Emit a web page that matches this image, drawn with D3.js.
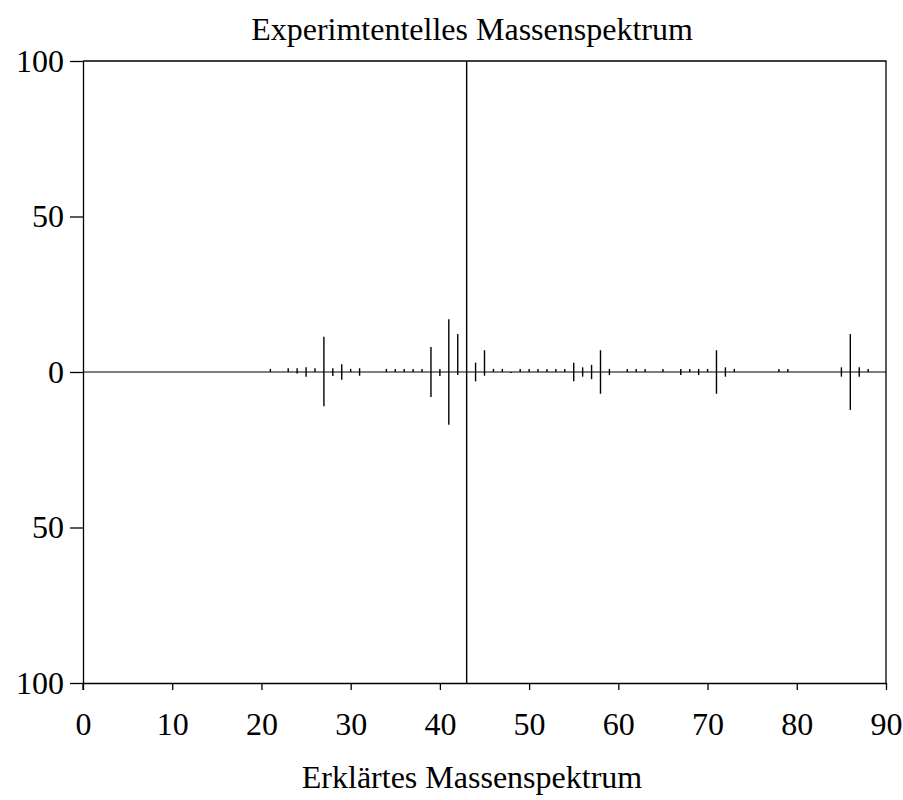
<!DOCTYPE html>
<head>
    <meta charset="UTF-8">
    <title>Massenspektrum</title>
</head>
<style>
    body { margin: 0; background: #fff; }
    text { font-family: "Liberation Serif", "Times New Roman", serif; fill: #000; }
    .axis .domain, .axis line { stroke: #000; stroke-width: 1.3; }
    .axis text { font-size: 32px; font-family: "Liberation Serif", serif; }
</style>
<body>
<script src="https://cdn.jsdelivr.net/npm/d3@7"></script>
<script>
    // Massenzahlen und Intensitäten (oben: experimentell, unten: erklärt)
    var masses      = [21, 23, 24, 25, 26, 27, 28, 29, 30, 31, 34, 35, 36, 37, 38, 39, 40, 41, 42, 43, 44, 45, 46, 47, 48, 49, 50, 51, 52, 53, 54, 55, 56, 57, 58, 59, 61, 62, 63, 65, 67, 68, 69, 70, 71, 72, 73, 78, 79, 85, 86, 87, 88];
    var expValues   = [1, 1.2, 1.2, 1.5, 1.2, 11.3, 1.2, 2.5, 1, 1.2, 1, 1, 1, 1, 1, 8, 1, 17, 12.2, 100, 3, 7, 1, 1, 0, 1, 1, 1, 1, 1, 1, 3, 1.5, 2.3, 7, 1, 1, 1, 1, 1, 1, 1, 1, 1, 7, 1.5, 1, 1, 1, 1.5, 12.2, 1.5, 1];
    var explValues  = [0, 0, 0.5, 1.5, 0, 11, 1.3, 2.5, 0, 1.2, 0, 0, 0, 0, 0, 8, 1.3, 17, 1, 100, 3, 1.2, 0, 0, 0.3, 0, 0, 0, 0, 0, 0, 3, 1.5, 2.3, 7, 1, 0, 0, 0, 0, 1, 0, 1, 0, 7, 1.5, 0, 0, 0, 1.5, 12.2, 1.5, 0];
    var xTicks = [0, 10, 20, 30, 40, 50, 60, 70, 80, 90];
    var yTicks = [100, 50, 0, -50, -100];

    var margin = {top: 61, right: 17, bottom: 117, left: 83},
        width = 903 - margin.left - margin.right,
        height = 800 - margin.top - margin.bottom;

    var x = d3.scaleLinear().domain([0, 90]).range([0, width]);
    var y = d3.scaleLinear().domain([-100, 100]).range([height, 0]);

    var svg = d3.select("body").append("svg")
        .attr("width", 903)
        .attr("height", 800);

    var g = svg.append("g")
        .attr("transform", "translate(" + margin.left + "," + margin.top + ")");

    // Rahmen oben und rechts
    g.append("path")
        .attr("d", "M0,0H" + width + "V" + height)
        .attr("fill", "none")
        .attr("stroke", "#000")
        .attr("stroke-width", 1.3);

    g.append("g")
        .attr("class", "axis")
        .attr("transform", "translate(0," + height + ")")
        .call(d3.axisBottom(x).tickValues(xTicks).tickSize(7).tickSizeOuter(0).tickPadding(22));

    g.append("g")
        .attr("class", "axis")
        .call(d3.axisLeft(y).tickValues(yTicks).tickSize(13).tickSizeOuter(0).tickPadding(6)
            .tickFormat(function(d) { return Math.abs(d); }));

    // y-Achse etwas nach unten verlängert wie im Original
    g.append("line")
        .attr("x1", 0).attr("x2", 0)
        .attr("y1", height).attr("y2", height + 7)
        .attr("stroke", "#000").attr("stroke-width", 1.3);

    // Nulllinie
    g.append("line")
        .attr("x1", 0).attr("x2", width)
        .attr("y1", y(0)).attr("y2", y(0))
        .attr("stroke", "#000").attr("stroke-width", 1.2);

    var peaks = masses.map(function(m, i) { return {m: m, up: expValues[i], down: explValues[i]}; });

    g.selectAll(".peak")
        .data(peaks)
        .enter().append("line")
        .attr("class", "peak")
        .attr("x1", function(d) { return x(d.m); })
        .attr("x2", function(d) { return x(d.m); })
        .attr("y1", function(d) { return y(d.up); })
        .attr("y2", function(d) { return y(-d.down); })
        .attr("stroke", "#000")
        .attr("stroke-width", 1.4);

    svg.append("text")
        .attr("x", 472).attr("y", 40)
        .attr("text-anchor", "middle")
        .style("font-size", "32px")
        .text("Experimtentelles Massenspektrum");

    svg.append("text")
        .attr("x", 472).attr("y", 788)
        .attr("text-anchor", "middle")
        .style("font-size", "32px")
        .text("Erklärtes Massenspektrum");
</script>
